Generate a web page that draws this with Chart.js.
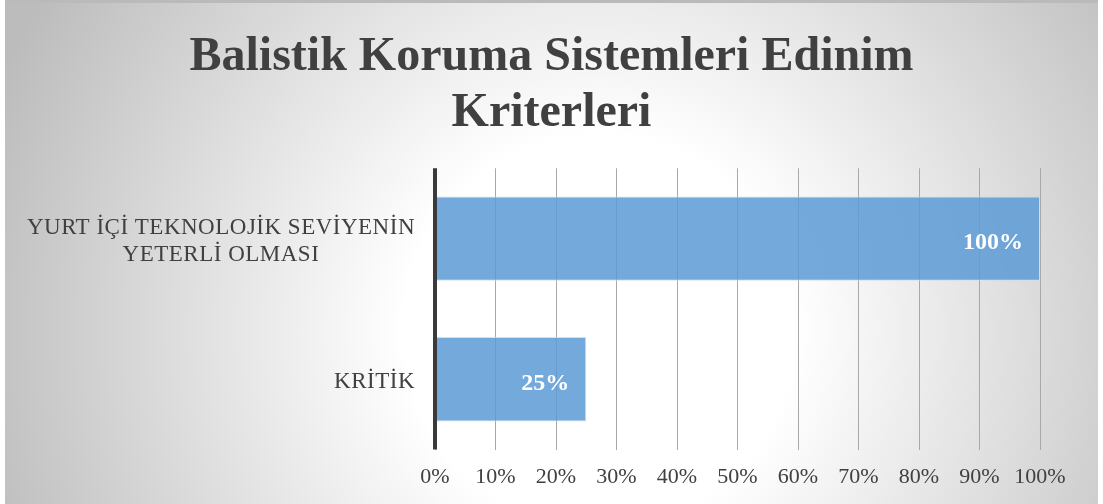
<!DOCTYPE html>
<html>
<head>
<meta charset="utf-8">
<script src="https://cdn.jsdelivr.net/npm/chart.js@4/dist/chart.umd.min.js"></script>
<style>
  html, body { margin: 0; padding: 0; background: #ffffff; }
  #wrap { width: 1103px; height: 504px; position: relative; }
</style>
</head>
<body>
<div id="wrap"><canvas id="c" width="1103" height="504"></canvas></div>
<script>
// Chart content
const titleLines = ['Balistik Koruma Sistemleri Edinim', 'Kriterleri'];
const categories = [
  ['YURT İÇİ TEKNOLOJİK SEVİYENİN', 'YETERLİ OLMASI'],
  ['KRİTİK']
];
const shares = [100, 25];          // percent
const axisMax = 100;
const axisStep = 10;

const SERIF = '"Liberation Serif", "Times New Roman", serif';
const TEXT = '#404040';

// Soft radial backdrop inside a narrow white margin, with a darker top edge
const backdrop = {
  id: 'backdrop',
  beforeDraw(chart) {
    const { ctx, width, height } = chart;
    ctx.save();
    ctx.fillStyle = '#ffffff';
    ctx.fillRect(0, 0, width, height);
    const g = ctx.createRadialGradient(600, 330, 0, 600, 330, 650);
    g.addColorStop(0, '#ffffff');
    g.addColorStop(0.3, '#ffffff');
    g.addColorStop(1, '#bcbcbc');
    ctx.fillStyle = g;
    ctx.fillRect(5, 0, width - 10, height);
    ctx.fillStyle = '#bababa';
    ctx.fillRect(5, 0, width - 10, 3);
    ctx.restore();
  }
};

// Category labels: each block sits right against the axis, lines centred within the block
const categoryLabels = {
  id: 'categoryLabels',
  afterDraw(chart) {
    const { ctx } = chart;
    const y = chart.scales.y;
    const right = chart.chartArea.left - 20;
    const gap = 27;
    ctx.save();
    ctx.font = '23px ' + SERIF;
    ctx.letterSpacing = '0.5px';
    ctx.fillStyle = TEXT;
    ctx.textAlign = 'center';
    ctx.textBaseline = 'alphabetic';
    categories.forEach((lines, i) => {
      const w = Math.max(...lines.map(s => ctx.measureText(s).width));
      const cx = right - w / 2;
      const cy = y.getPixelForValue(i);
      const first = cy + 9 - (lines.length - 1) * gap / 2;
      lines.forEach((s, k) => ctx.fillText(s, cx, first + k * gap));
    });
    ctx.restore();
  }
};

// Value labels inside the bar ends
const valueLabels = {
  id: 'valueLabels',
  afterDatasetsDraw(chart) {
    const { ctx } = chart;
    const meta = chart.getDatasetMeta(0);
    ctx.save();
    ctx.font = 'bold 24px ' + SERIF;
    ctx.fillStyle = '#ffffff';
    ctx.textAlign = 'right';
    ctx.textBaseline = 'alphabetic';
    meta.data.forEach((bar, i) => {
      ctx.fillText(shares[i] + '%', bar.x - 17, bar.y + 10.5);
    });
    ctx.restore();
  }
};

// Thick value axis line at 0%
const baseLine = {
  id: 'baseLine',
  afterDatasetsDraw(chart) {
    const { ctx, chartArea } = chart;
    const x0 = chart.scales.x.getPixelForValue(0);
    ctx.save();
    ctx.strokeStyle = '#3a3a3a';
    ctx.lineWidth = 4;
    ctx.beginPath();
    ctx.moveTo(x0, chartArea.top);
    ctx.lineTo(x0, chartArea.bottom);
    ctx.stroke();
    ctx.restore();
  }
};

new Chart(document.getElementById('c'), {
  type: 'bar',
  data: {
    labels: categories,
    datasets: [{
      data: shares,
      backgroundColor: 'rgba(91,155,213,0.85)',
      borderColor: 'rgba(200,222,242,0.9)',
      borderWidth: 1,
      borderSkipped: false,
      categoryPercentage: 1,
      barPercentage: 0.6
    }]
  },
  plugins: [backdrop, valueLabels, baseLine, categoryLabels],
  options: {
    indexAxis: 'y',
    responsive: false,
    animation: false,
    devicePixelRatio: 1,
    layout: { padding: { left: 0, right: 0, top: 0, bottom: 0 } },
    plugins: {
      legend: { display: false },
      tooltip: { enabled: false },
      title: {
        display: true,
        text: titleLines,
        color: TEXT,
        font: { family: SERIF, size: 48, weight: 'bold', lineHeight: 1.18 },
        padding: { top: 29, bottom: 26 }
      }
    },
    scales: {
      x: {
        min: 0,
        max: axisMax,
        ticks: {
          stepSize: axisStep,
          callback: v => v + '%',
          color: TEXT,
          font: { family: SERIF, size: 22 },
          padding: 14,
          maxRotation: 0
        },
        grid: { color: '#a8a8a8', lineWidth: 1, drawTicks: false },
        border: { display: false },
        afterFit(scale) { scale.paddingRight = 63; }
      },
      y: {
        ticks: { display: false },
        grid: { display: false, drawTicks: false },
        border: { display: false },
        afterFit(scale) { scale.width = 435; }
      }
    }
  }
});
</script>
</body>
</html>
